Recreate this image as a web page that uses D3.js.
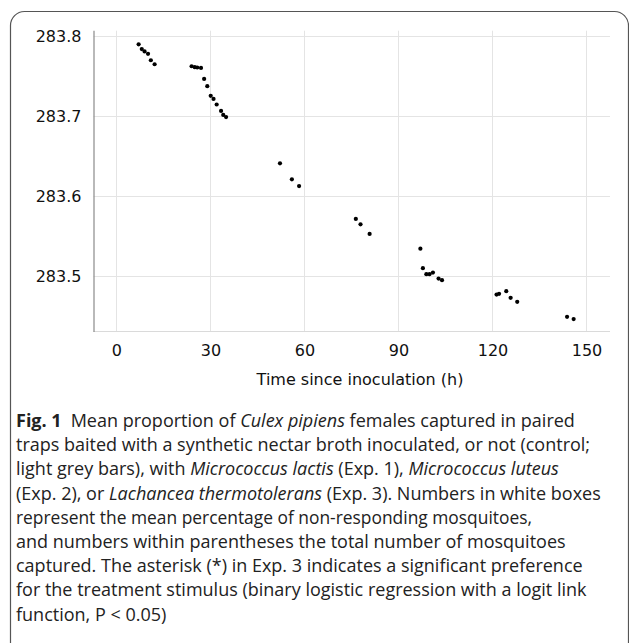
<!DOCTYPE html>
<html>
<head>
<meta charset="utf-8">
<script src="https://cdn.jsdelivr.net/npm/d3@7"></script>
<style>
  html, body { margin: 0; padding: 0; background: #fff; }
  svg { display: block; }
</style>
</head>
<body>
<div id="chart"></div>
<script>
// hours since inoculation and the matching values
const hours = [7.1, 8.1, 9.0, 10.1, 11.0, 12.2, 24.0, 25.0, 25.8, 27.0, 28.0, 29.0, 30.1, 31.0, 32.0, 33.4, 34.1, 35.0,
  52.2, 56.0, 58.3, 76.4, 77.9, 80.8, 97.0, 97.8, 98.9, 99.9, 101.0, 102.8, 103.9,
  121.3, 122.1, 124.4, 125.8, 127.9, 143.8, 145.9];
const values = [283.790, 283.784, 283.781, 283.778, 283.770, 283.765, 283.7625, 283.7613, 283.7609, 283.7604,
  283.7466, 283.7375, 283.7254, 283.7216, 283.7146, 283.7066, 283.7016, 283.6988,
  283.6409, 283.6209, 283.6125, 283.5713, 283.5646, 283.5525, 283.5341, 283.5096, 283.5021, 283.5021, 283.5041,
  283.4966, 283.4946, 283.4766, 283.4775, 283.4809, 283.4725, 283.4675, 283.4488, 283.4459];
const xTicks = [0, 30, 60, 90, 120, 150];
const yTicks = [283.5, 283.6, 283.7, 283.8];
const xTitle = 'Time since inoculation (h)';

// caption lines: each line is a list of [text, style]
const captionLines = [
  [['Fig. 1', 'b'], ['\u2002Mean proportion of ', ''], ['Culex pipiens', 'i'], [' females captured in paired', '']],
  [['traps baited with a synthetic nectar broth inoculated, or not (control;', '']],
  [['light grey bars), with ', ''], ['Micrococcus lactis', 'i'], [' (Exp. 1), ', ''], ['Micrococcus luteus', 'i']],
  [['(Exp. 2), or ', ''], ['Lachancea thermotolerans', 'i'], [' (Exp. 3). Numbers in white boxes', '']],
  [['represent the mean percentage of non-responding mosquitoes,', '']],
  [['and numbers within parentheses the total number of mosquitoes', '']],
  [['captured. The asterisk (*) in Exp. 3 indicates a significant preference', '']],
  [['for the treatment stimulus (binary logistic regression with a logit link', '']],
  [['function, P < 0.05)', '']]
];
const captionWidths = [592, 604, 573, 605, 516, 585, 595, 597, 162];

const cfg = {
  width: 629,
  height: 643,
  plot: { left: 93.5, right: 610, top: 30.7, bottom: 331 },
  xDomain: [-7.3, 157.5],
  yDomain: [283.431, 283.807],
  tickFont: '16px "DejaVu Sans", Verdana, sans-serif',
  captionX: 16,
  captionY: 427,
  captionStep: 24.2
};

const data = hours.map((h, i) => ({ h: h, v: values[i] }));

const svg = d3.select('#chart').append('svg')
  .attr('width', cfg.width)
  .attr('height', cfg.height);

// card frame
svg.append('rect')
  .attr('x', 10.5).attr('y', 11.5)
  .attr('width', 618).attr('height', 660)
  .attr('rx', 14).attr('ry', 14)
  .attr('fill', 'none')
  .attr('stroke', '#555')
  .attr('stroke-width', 1.2);

const x = d3.scaleLinear().domain(cfg.xDomain).range([cfg.plot.left, cfg.plot.right]);
const y = d3.scaleLinear().domain(cfg.yDomain).range([cfg.plot.bottom, cfg.plot.top]);

// grid
const grid = svg.append('g').attr('stroke', '#e4e4e4').attr('stroke-width', 1);
grid.selectAll('line.v').data(xTicks).enter().append('line')
  .attr('x1', d => Math.round(x(d)) + 0.5).attr('x2', d => Math.round(x(d)) + 0.5)
  .attr('y1', cfg.plot.top).attr('y2', cfg.plot.bottom);
grid.selectAll('line.h').data(yTicks).enter().append('line')
  .attr('x1', cfg.plot.left).attr('x2', cfg.plot.right)
  .attr('y1', d => Math.round(y(d)) + 0.5).attr('y2', d => Math.round(y(d)) + 0.5);

// bottom axis line (light) and left axis line (darker)
svg.append('line')
  .attr('x1', cfg.plot.left).attr('x2', cfg.plot.right)
  .attr('y1', cfg.plot.bottom + 0.5).attr('y2', cfg.plot.bottom + 0.5)
  .attr('stroke', '#dadada');
svg.append('line')
  .attr('x1', cfg.plot.left + 0.5).attr('x2', cfg.plot.left + 0.5)
  .attr('y1', cfg.plot.top).attr('y2', cfg.plot.bottom + 1)
  .attr('stroke', '#8a8a8a').attr('stroke-width', 1.2);

// axes (labels only)
const xAxis = svg.append('g')
  .attr('transform', `translate(0,${cfg.plot.bottom})`)
  .call(d3.axisBottom(x).tickValues(xTicks).tickSize(0).tickPadding(13.5));
const yAxis = svg.append('g')
  .attr('transform', `translate(${cfg.plot.left},0)`)
  .call(d3.axisLeft(y).tickValues(yTicks).tickFormat(d3.format('.1f')).tickSize(0).tickPadding(12));
[xAxis, yAxis].forEach(g => {
  g.select('.domain').remove();
  g.selectAll('text').style('font', cfg.tickFont).attr('fill', '#111');
});

// points
svg.append('g').selectAll('circle')
  .data(data)
  .enter()
  .append('circle')
  .attr('cx', d => x(d.h))
  .attr('cy', d => y(d.v))
  .attr('r', 2.1)
  .attr('fill', '#000');

// x axis title
svg.append('text')
  .attr('x', 360)
  .attr('y', 385)
  .attr('text-anchor', 'middle')
  .style('font', cfg.tickFont)
  .attr('fill', '#111')
  .text(xTitle);

// caption
const cap = svg.append('g')
  .style('font-family', '"Open Sans", "Noto Sans", sans-serif')
  .style('font-size', '18px')
  .attr('fill', '#222');
captionLines.forEach((parts, i) => {
  const t = cap.append('text')
    .attr('x', cfg.captionX)
    .attr('y', cfg.captionY + i * cfg.captionStep);
  parts.forEach(([str, style]) => {
    t.append('tspan')
      .style('font-weight', style === 'b' ? 700 : 400)
      .style('font-style', style === 'i' ? 'italic' : 'normal')
      .text(str);
  });
  // squeeze lines that run longer than the measured width; leave short ones alone
  const natural = t.node().getComputedTextLength();
  if (natural > captionWidths[i]) {
    t.attr('textLength', captionWidths[i]).attr('lengthAdjust', 'spacingAndGlyphs');
  }
});
</script>
</body>
</html>
